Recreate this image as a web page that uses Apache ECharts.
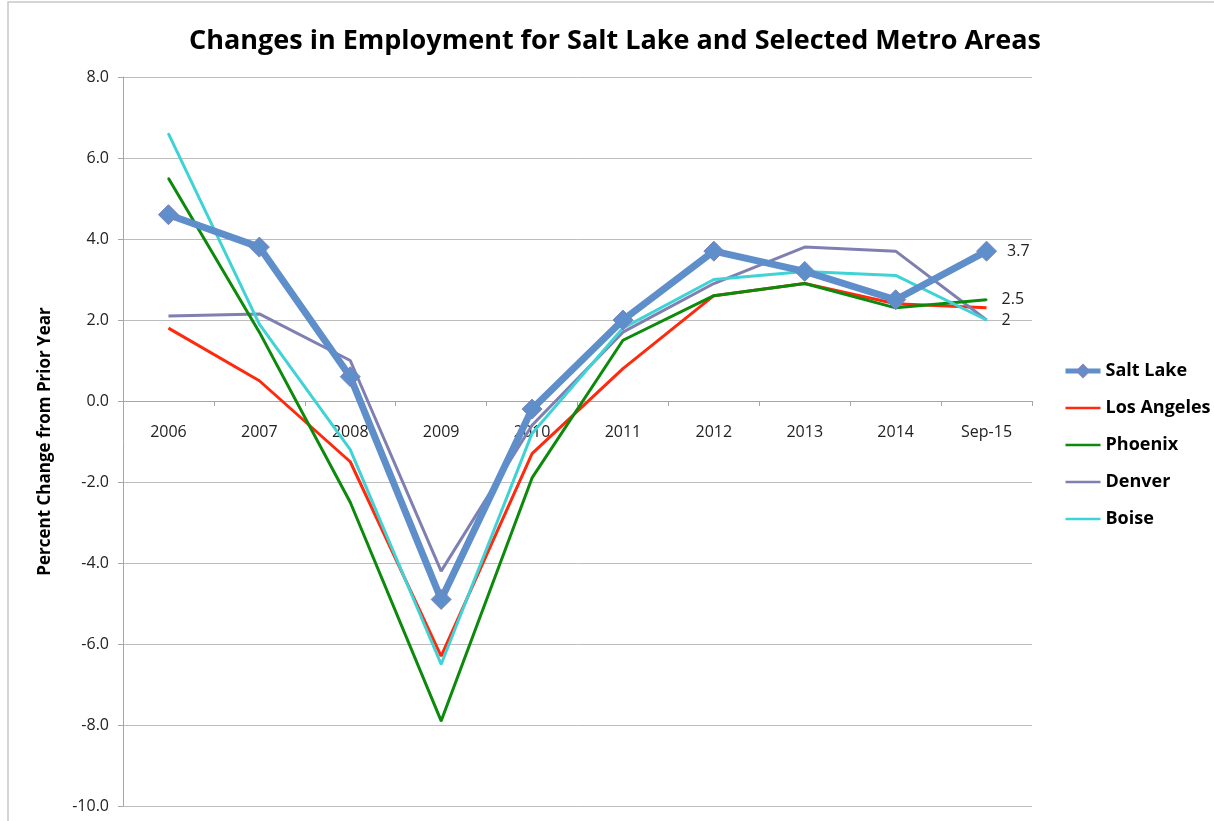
<!DOCTYPE html>
<html>
<head>
<meta charset="utf-8">
<script src="https://cdn.jsdelivr.net/npm/echarts@6/dist/echarts.min.js"></script>
<style>
  html, body { margin: 0; padding: 0; background: #fff; }
  #chart { width: 1214px; height: 821px; }
</style>
</head>
<body>
<div id="chart"></div>
<script>
var years = ['2006', '2007', '2008', '2009', '2010', '2011', '2012', '2013', '2014', 'Sep-15'];
var saltLake   = [4.6, 3.8, 0.6, -4.9, -0.2, 2.0, 3.7, 3.2, 2.5, 3.7];
var losAngeles = [1.8, 0.5, -1.5, -6.3, -1.3, 0.8, 2.6, 2.9, 2.4, 2.3];
var phoenix    = [5.5, 1.7, -2.5, -7.9, -1.9, 1.5, 2.6, 2.9, 2.3, 2.5];
var denver     = [2.1, 2.15, 1.0, -4.2, -0.6, 1.7, 2.9, 3.8, 3.7, 2.0];
var boise      = [6.6, 1.9, -1.2, -6.5, -0.8, 1.8, 3.0, 3.2, 3.1, 2.0];

(function () {
    var myChart = echarts.init(document.getElementById('chart'));
    var fontName = 'Open Sans';
    // plain line icon for the legend (padded box so it stays thin)
    var lineIcon = 'path://M0,0L0,0M0,6H40V9H0ZM40,15L40,15';

    // label only on the last point
    function lastLabel(arr) {
        return arr.map(function (v, i) {
            if (i === arr.length - 1) {
                return { value: v, label: { show: true } };
            }
            return v;
        });
    }
    function endLabel(dist) {
        return {
            position: 'right',
            distance: dist,
            color: '#222',
            fontFamily: fontName,
            fontSize: 16,
            formatter: function (p) { return String(p.value); }
        };
    }

    option = {
        animation: false,
        backgroundColor: '#fff',
        title: {
            text: 'Changes in Employment for Salt Lake and Selected Metro Areas',
            left: 610,
            top: 23,
            textAlign: 'center',
            textStyle: { fontFamily: fontName, fontWeight: 'bold', fontSize: 27, color: '#000' }
        },
        legend: {
            orient: 'vertical',
            left: 1058,
            top: 357,
            itemGap: 19,
            itemWidth: 35,
            itemHeight: 15,
            textStyle: { fontFamily: fontName, fontWeight: 'bold', fontSize: 18, color: '#000' },
            data: [
                { name: 'Salt Lake', lineStyle: { width: 5 } },
                { name: 'Los Angeles', icon: lineIcon },
                { name: 'Phoenix', icon: lineIcon },
                { name: 'Denver', icon: lineIcon },
                { name: 'Boise', icon: lineIcon }
            ]
        },
        graphic: [{
            type: 'polyline',
            shape: { points: [[8, 821], [8, 2], [1214, 2]] },
            style: { stroke: '#c8c8c8', lineWidth: 1.5, fill: null }
        }],
        grid: { left: 123, right: 182, top: 77, bottom: 15, outerBoundsMode: 'none' },
        xAxis: {
            type: 'category',
            data: years,
            boundaryGap: true,
            offset: -405,
            axisLine: { onZero: false, lineStyle: { color: '#a6a6a6', width: 1 } },
            axisTick: { show: true, length: 5, lineStyle: { color: '#a6a6a6' } },
            axisLabel: { margin: 23, color: '#222', fontFamily: fontName, fontSize: 16 }
        },
        yAxis: {
            type: 'value',
            min: -10,
            max: 8,
            interval: 2,
            name: 'Percent Change from Prior Year',
            nameLocation: 'middle',
            nameGap: 69,
            nameTextStyle: { fontFamily: fontName, fontWeight: 'bold', fontSize: 17, color: '#000' },
            axisLine: { show: true, lineStyle: { color: '#a6a6a6' } },
            axisTick: { show: true, length: 5, lineStyle: { color: '#a6a6a6' } },
            axisLabel: {
                margin: 14, color: '#222', fontFamily: fontName, fontSize: 16,
                formatter: function (v) { return v.toFixed(1); }
            },
            splitLine: { lineStyle: { color: '#bdbdbd', width: 1 } }
        },
        series: [
            {
                name: 'Salt Lake', type: 'line', z: 5,
                data: lastLabel(saltLake),
                symbol: 'diamond', symbolSize: 20, showAllSymbol: true,
                lineStyle: { color: '#5e8fcb', width: 7 },
                itemStyle: { color: '#5e8fcb', borderColor: '#7b83bd', borderWidth: 1 },
                label: endLabel(10)
            },
            {
                name: 'Los Angeles', type: 'line', z: 2,
                data: losAngeles, symbol: 'none',
                lineStyle: { color: '#ff2a0e', width: 3 },
                itemStyle: { color: '#ff2a0e' }
            },
            {
                name: 'Phoenix', type: 'line', z: 3,
                data: lastLabel(phoenix), symbol: 'circle', symbolSize: 2,
                lineStyle: { color: '#0b8a0b', width: 3 },
                itemStyle: { color: '#0b8a0b' },
                label: endLabel(14)
            },
            {
                name: 'Denver', type: 'line', z: 2,
                data: denver, symbol: 'none',
                lineStyle: { color: '#7f7fb2', width: 3 },
                itemStyle: { color: '#7f7fb2' }
            },
            {
                name: 'Boise', type: 'line', z: 4,
                data: lastLabel(boise), symbol: 'circle', symbolSize: 2,
                lineStyle: { color: '#3fd3d6', width: 3 },
                itemStyle: { color: '#3fd3d6' },
                label: endLabel(14)
            }
        ]
    };

    myChart.setOption(option);
})();
</script>
</body>
</html>
